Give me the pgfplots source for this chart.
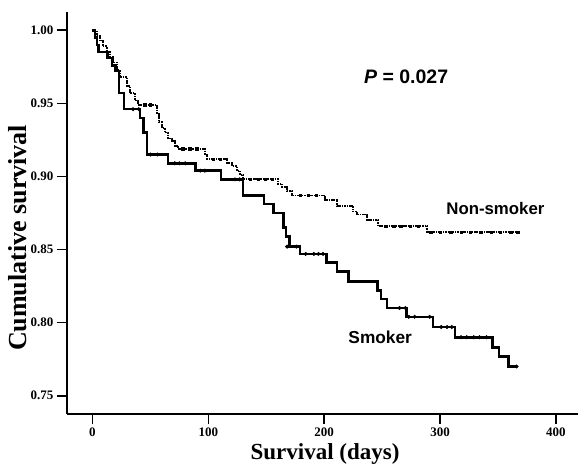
\documentclass[border=0pt]{standalone}
\usepackage{fontspec}
\setmainfont{Liberation Serif}
\newfontfamily\arialb{Liberation Sans}
\usepackage{pgfplots}
\pgfplotsset{compat=1.18}
\begin{document}
\begin{tikzpicture}
\begin{axis}[
    scale only axis,
    width=511pt, height=402pt,
    xmin=-22, xmax=419,
    ymin=0.7375, ymax=1.0125,
    axis x line*=bottom,
    axis y line*=left,
    axis line style={line width=2pt},
    every tick/.style={black, line width=1.6pt},
    tick align=outside,
    major tick length=10pt,
    xtick={0,100,200,300,400},
    ytick={0.75,0.80,0.85,0.90,0.95,1.00},
    /pgf/number format/assume math mode=true,
    tick label style={font=\fontsize{13}{15}\selectfont\bfseries},
    yticklabel style={/pgf/number format/.cd, fixed, fixed zerofill, precision=2},
    xlabel={Survival (days)},
    ylabel={Cumulative survival},
    xlabel style={font=\fontsize{23}{26}\selectfont\bfseries,
        at={(axis description cs:0.505,-0.0995)}, anchor=center},
    ylabel style={font=\fontsize{26}{28}\selectfont\bfseries,
        at={(axis description cs:-0.096,0.438)}, anchor=center},
    clip=false,
]
% Smoker
\addplot[const plot, black, line width=2.5pt] coordinates {
    (0,1.000) (2,0.995) (4,0.990) (5,0.985) (13,0.981) (17,0.976)
    (20,0.972) (23,0.957) (27,0.946) (41,0.940) (44,0.930) (47,0.915)
    (65,0.909) (89,0.904) (111,0.898) (130,0.887) (148,0.881) (156,0.875)
    (165,0.865) (167,0.859) (170,0.852) (179,0.847) (202,0.841) (211,0.835)
    (221,0.828) (246,0.822) (249,0.816) (254,0.810) (271,0.804) (294,0.797)
    (313,0.790) (345,0.783) (351,0.777) (359,0.770) (366,0.770)
};
% Smoker censored
\addplot[only marks, mark=*, mark size=1.8pt, black] coordinates {
    (35,0.946) (40,0.946) (50,0.915) (56,0.915) (71,0.909) (75,0.909) (80,0.909)
    (93,0.904) (97,0.904) (123,0.898) (127,0.898) (168,0.852) (176,0.852)
    (184,0.847) (191,0.847) (195,0.847) (199,0.847) (265,0.810) (270,0.810)
    (273,0.804) (278,0.804) (291,0.804) (301,0.797) (306,0.797) (310,0.797)
    (318,0.790) (323,0.790) (329,0.790) (334,0.790) (340,0.790) (366,0.770)
};
% Non-smoker
\addplot[const plot, black, line width=1.8pt, dash pattern=on 1.6pt off 0.8pt] coordinates {
    (0,1.000) (3.7,0.996) (6.3,0.993) (8.9,0.989) (12.4,0.985) (15,0.982)
    (17.5,0.978) (21,0.973) (23.6,0.968) (29.6,0.962) (32.2,0.957)
    (36.6,0.952) (39.2,0.949) (55.6,0.943) (57.3,0.937) (59.9,0.933)
    (62.5,0.930) (65.1,0.926) (68.5,0.924) (71.1,0.921) (73.7,0.919)
    (97,0.915) (98.8,0.912) (116,0.909) (120.4,0.907) (124.7,0.904)
    (127.3,0.901) (130.2,0.898) (160,0.895) (163.6,0.893) (168,0.890)
    (172.3,0.887) (200.8,0.884) (211.2,0.880) (225,0.876) (228.4,0.874)
    (237,0.870) (246.6,0.866) (289,0.862) (367,0.862)
};
% Non-smoker censored
\addplot[only marks, mark=square*, mark size=1.2pt, black] coordinates {
    (45,0.949) (50,0.949) (78,0.919) (84,0.919) (90,0.919)
    (104,0.912) (110,0.912) (136,0.898) (143,0.898) (149,0.898) (155,0.898)
    (179,0.887) (186,0.887) (193,0.887) (253,0.866) (260,0.866) (266,0.866)
    (274,0.866) (281,0.866) (292,0.862) (300,0.862) (309,0.862) (318,0.862)
    (326,0.862) (335,0.862) (344,0.862) (352,0.862) (361,0.862) (367,0.862)
};
\node[font=\arialb\fontsize{19.5}{21}\selectfont\bfseries] at (axis cs:270.7,0.968)
    {\textit{P} = 0.027};
\node[font=\arialb\fontsize{16.8}{18}\selectfont\bfseries] at (axis cs:347.7,0.878)
    {Non-smoker};
\node[font=\arialb\fontsize{17.3}{19}\selectfont\bfseries] at (axis cs:248.3,0.790)
    {Smoker};
\end{axis}
\path (current axis.south west) ++(-67pt,-55pt) rectangle ++(579pt,469pt);
\end{tikzpicture}
\end{document}
